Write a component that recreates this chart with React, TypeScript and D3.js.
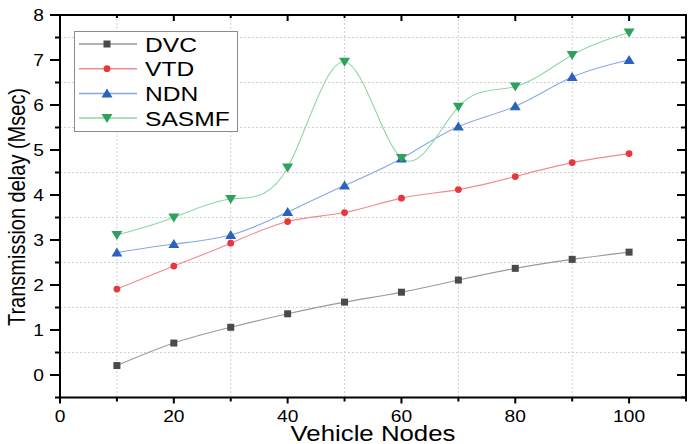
import React from "react";
import * as d3 from "d3";

const nodes = [10, 20, 30, 40, 50, 60, 70, 80, 90, 100];
const dvc = [0.21, 0.71, 1.06, 1.36, 1.62, 1.84, 2.11, 2.37, 2.57, 2.73];
const vtd = [1.91, 2.42, 2.93, 3.41, 3.61, 3.93, 4.12, 4.41, 4.72, 4.92];
const ndn = [2.72, 2.91, 3.11, 3.62, 4.21, 4.81, 5.52, 5.97, 6.62, 7.0];
const sasmf = [3.11, 3.5, 3.91, 4.61, 6.96, 4.82, 5.96, 6.41, 7.11, 7.61];
const seriesNames = ["DVC", "VTD", "NDN", "SASMF"];
const xTicks = [0, 20, 40, 60, 80, 100];
const yTicks = [0, 1, 2, 3, 4, 5, 6, 7, 8];

const W = 688, H = 444;
const L = 60, R = 686, T = 15, B = 397.5;
const FONT = "'Liberation Sans', Arial, sans-serif";

const styles = [
  { line: "#9a9a9a", mark: "#4a4a4a", shape: "square" },
  { line: "#f28b8b", mark: "#e8373a", shape: "circle" },
  { line: "#86a8e4", mark: "#2c62bd", shape: "up" },
  { line: "#8fd6a6", mark: "#2ea25c", shape: "down" },
];

function Marker({ x, y, shape, color }: { x: number; y: number; shape: string; color: string }) {
  if (shape === "square") return <rect x={x - 3.5} y={y - 3.5} width={7} height={7} fill={color} />;
  if (shape === "circle") return <circle cx={x} cy={y} r={3.4} fill={color} />;
  if (shape === "up")
    return <path d={`M${x},${y - 5} L${x + 5.5},${y + 4} L${x - 5.5},${y + 4} Z`} fill={color} />;
  return <path d={`M${x},${y + 5} L${x + 5.5},${y - 4} L${x - 5.5},${y - 4} Z`} fill={color} />;
}

export default function App() {
  const x = d3.scaleLinear().domain([0, 110]).range([L, R]);
  const y = d3.scaleLinear().domain([-0.5, 8]).range([B, T]);
  const all = [dvc, vtd, ndn, sasmf];
  const line = d3
    .line<number>()
    .x((_, i) => x(nodes[i]))
    .y((d) => y(d))
    .curve(d3.curveNatural);

  const gridX = d3.range(10, 110, 20);
  const gridY = d3.range(-0.5, 8, 1).filter((v) => v > -0.5);
  const minorY = d3.range(-0.5, 8.01, 0.5);
  const minorX = d3.range(0, 110.01, 10);

  return (
    <div style={{ position: "fixed", left: 0, top: 0 }}>
      <svg width={W} height={H} style={{ display: "block", background: "#fff" }}>
        {gridX.map((v) => (
          <line key={"gx" + v} x1={x(v)} x2={x(v)} y1={T} y2={B} stroke="#d0d0d0" strokeWidth={1} strokeDasharray="2,2" />
        ))}
        {gridY.map((v) => (
          <line key={"gy" + v} x1={L} x2={R} y1={y(v)} y2={y(v)} stroke="#d0d0d0" strokeWidth={1} strokeDasharray="2,2" />
        ))}
        {all.map((s, k) => (
          <path key={"l" + k} d={line(s) || ""} fill="none" stroke={styles[k].line} strokeWidth={1.1} />
        ))}
        {all.map((s, k) =>
          s.map((v, i) => (
            <Marker key={`m${k}-${i}`} x={x(nodes[i])} y={y(v)} shape={styles[k].shape} color={styles[k].mark} />
          ))
        )}
        <rect x={L} y={T} width={R - L} height={B - T} fill="none" stroke="#000" strokeWidth={2} />
        {minorY.map((v) => {
          const major = Math.abs(v - Math.round(v)) < 1e-6;
          return <line key={"lt" + v} x1={L} x2={L - (major ? 10 : 5)} y1={y(v)} y2={y(v)} stroke="#000" strokeWidth={2} />;
        })}
        {minorY.map((v) => {
          const major = Math.abs(v - Math.round(v)) < 1e-6;
          return <line key={"rt" + v} x1={R} x2={R - (major ? 9 : 5)} y1={y(v)} y2={y(v)} stroke="#000" strokeWidth={2} />;
        })}
        {minorX.map((v) => {
          const major = v % 20 === 0;
          return <line key={"bt" + v} x1={x(v)} x2={x(v)} y1={B} y2={B + (major ? 6 : 4)} stroke="#000" strokeWidth={2} />;
        })}
        {minorX.map((v) => {
          const major = v % 20 === 0;
          return <line key={"tt" + v} x1={x(v)} x2={x(v)} y1={T} y2={T + (major ? 6 : 3)} stroke="#000" strokeWidth={2} />;
        })}
        {yTicks.map((v) => (
          <text key={"yl" + v} transform={`translate(44,${y(v) + 6}) scale(1.2,1)`} textAnchor="end" fontFamily={FONT} fontSize={16} fill="#000">
            {v}
          </text>
        ))}
        {xTicks.map((v) => (
          <text key={"xl" + v} transform={`translate(${x(v)},422) scale(1.2,1)`} textAnchor="middle" fontFamily={FONT} fontSize={16} fill="#000">
            {v}
          </text>
        ))}
        <text transform={`translate(373,441) scale(1.2,1)`} textAnchor="middle" fontFamily={FONT} fontSize={21.5} fill="#000">
          Vehicle Nodes
        </text>
        <text transform={`translate(25,207) rotate(-90) scale(1,1.2)`} textAnchor="middle" fontFamily={FONT} fontSize={20} fill="#000">
          Transmission delay (Msec)
        </text>
        <rect x={74.5} y={31.5} width={163} height={100} fill="#fff" stroke="#8a8a8a" strokeWidth={1} />
        {seriesNames.map((n, k) => {
          const ly = 44 + k * 24.7;
          return (
            <g key={"lg" + n}>
              <line x1={79} x2={137} y1={ly} y2={ly} stroke={styles[k].line} strokeWidth={1.5} />
              <Marker x={107} y={ly} shape={styles[k].shape} color={styles[k].mark} />
              <text transform={`translate(145,${ly + 7.5}) scale(1.2,1)`} fontFamily={FONT} fontSize={20.5} fill="#000">
                {n}
              </text>
            </g>
          );
        })}
      </svg>
    </div>
  );
}
